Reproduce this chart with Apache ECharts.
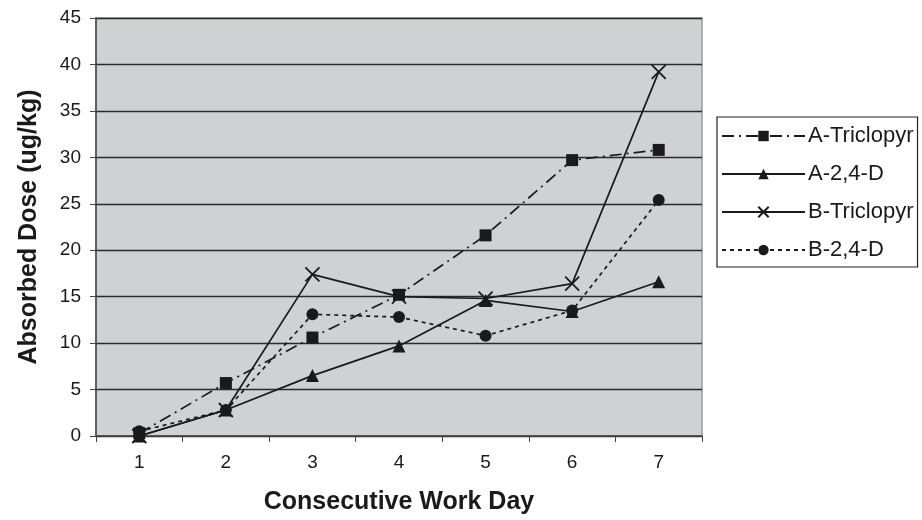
<!DOCTYPE html>
<html><head><meta charset="utf-8">
<script src="https://cdn.jsdelivr.net/npm/echarts@6/dist/echarts.min.js"></script>
<style>html,body{margin:0;padding:0;background:#fff}#c{width:922px;height:520px}</style>
</head><body><div id="c"></div>
<script>
var days = ['1','2','3','4','5','6','7'];
var aTriclopyr = [0.3, 5.7, 10.6, 15.2, 21.6, 29.7, 30.8];
var a24D = [0.0, 2.8, 6.5, 9.7, 14.6, 13.4, 16.6];
var bTriclopyr = [0.0, 2.8, 17.4, 15.0, 14.8, 16.4, 39.2];
var b24D = [0.5, 2.8, 13.1, 12.8, 10.8, 13.5, 25.4];

var font = 'Liberation Sans, Arial, Helvetica, sans-serif';
var XSYM = 'path://M0,0L10,10M10,0L0,10';
function mk(name, data, symbol, size, ltype){
  return {name:name, type:'line', data:data, symbol:symbol, symbolSize:size,
    lineStyle:{color:'#1a1a1a', width:1.7, type:ltype},
    itemStyle:{color:'#1a1a1a', borderColor:'#1a1a1a', borderWidth: symbol===XSYM ? 1.8 : 0},
    emphasis:{disabled:true}, animation:false};
}
var chart = echarts.init(document.getElementById('c'), null, {renderer:'canvas'});
chart.setOption({
  animation:false,
  textStyle:{fontFamily:font},
  grid:{left:96, top:18, right:220, bottom:82, show:true, backgroundColor:'#d0d1d3', borderColor:'#9a9a9a', borderWidth:1.5},
  legend:{
    orient:'vertical', left:717, top:117,
    padding:[8,4,6,4], itemGap:16, itemWidth:83, itemHeight:13,
    borderColor:'#222', borderWidth:1.2, backgroundColor:'#fff',
    textStyle:{fontFamily:font, fontSize:22, color:'#1a1a1a', padding:[0,0,0,-2]},
    data:['A-Triclopyr','A-2,4-D','B-Triclopyr','B-2,4-D']
  },
  xAxis:{
    type:'category', data:days, boundaryGap:true,
    name:'Consecutive Work Day', nameLocation:'middle', nameGap:54,
    nameTextStyle:{fontFamily:font, fontSize:25, fontWeight:'bold', color:'#1a1a1a'},
    axisLine:{lineStyle:{color:'#444', width:1.5}},
    axisTick:{show:true, length:6, lineStyle:{color:'#444'}},
    axisLabel:{fontSize:19, color:'#1a1a1a', margin:17, fontFamily:font},
    splitLine:{show:false}
  },
  yAxis:{
    type:'value', min:0, max:45, interval:5,
    name:'Absorbed Dose (ug/kg)', nameLocation:'middle', nameGap:54,
    nameTextStyle:{fontFamily:font, fontSize:25, fontWeight:'bold', color:'#1a1a1a'},
    axisLine:{show:true, lineStyle:{color:'#444', width:1.5}},
    axisTick:{show:true, length:6, lineStyle:{color:'#444'}},
    axisLabel:{fontSize:19, color:'#1a1a1a', margin:15, fontFamily:font},
    splitLine:{show:true, lineStyle:{color:'#2a2a2a', width:1.3}}
  },
  series:[
    mk('A-Triclopyr', aTriclopyr, 'rect', 12, [12,5,2,5]),
    mk('A-2,4-D', a24D, 'triangle', 13, 'solid'),
    mk('B-Triclopyr', bTriclopyr, XSYM, 14, 'solid'),
    mk('B-2,4-D', b24D, 'circle', 12, [4,4])
  ]
});
</script></body></html>
